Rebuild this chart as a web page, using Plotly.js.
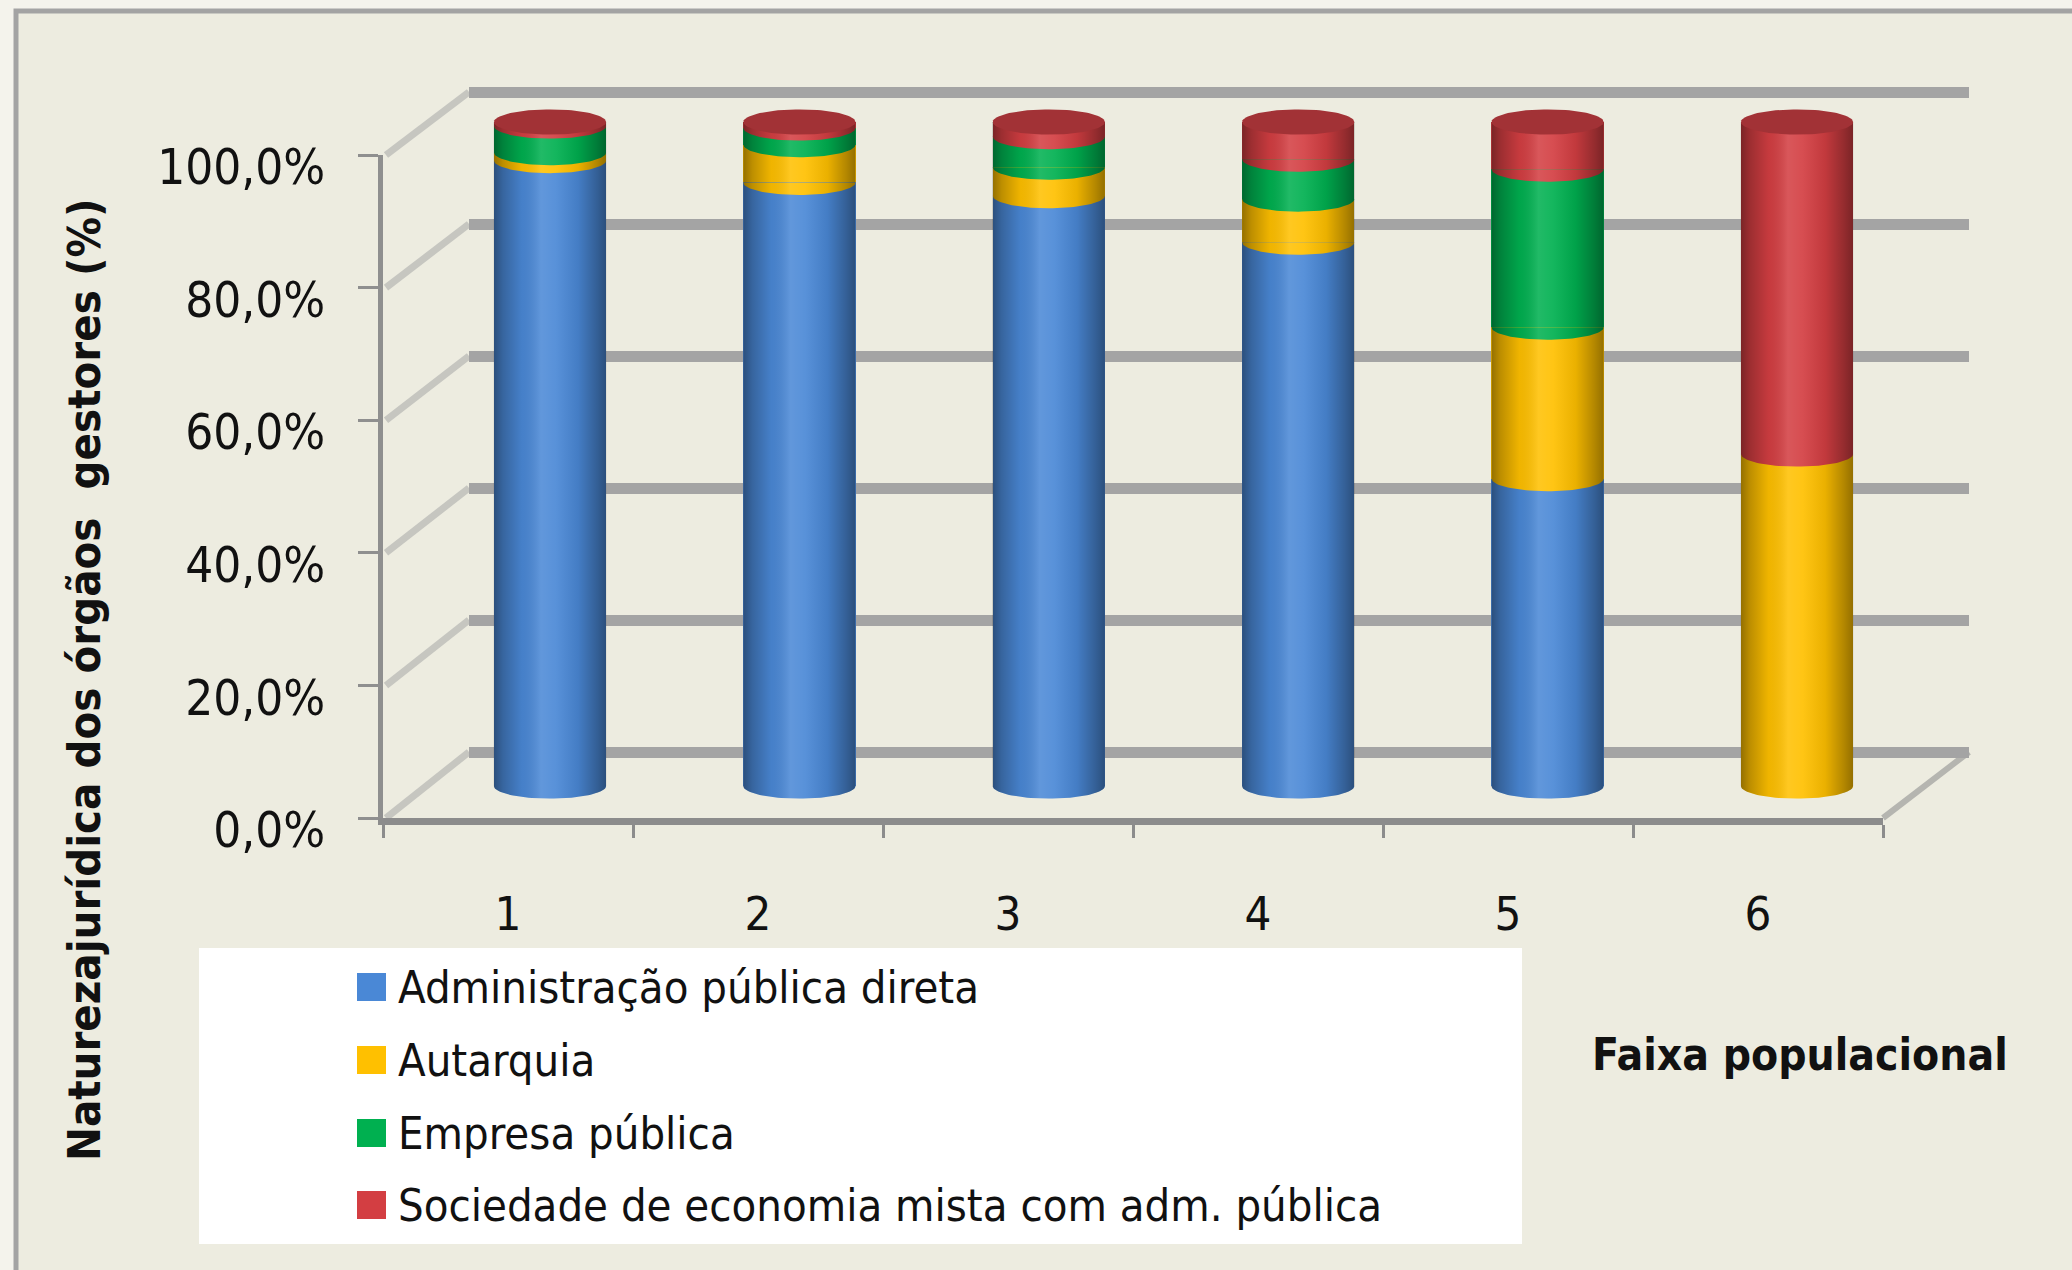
<!DOCTYPE html>
<html>
<head>
<meta charset="utf-8">
<script src="https://cdn.plot.ly/plotly-3.0.1.min.js"></script>
<style>
html,body{margin:0;padding:0;background:#F4F3EC;}
#chart{width:2072px;height:1270px;}
</style>
</head>
<body>
<div id="chart"></div>
<script>
// ---------------- data ----------------
const categories = [1, 2, 3, 4, 5, 6];   // Faixa populacional
const seriesNames = [
  'Administração pública direta',
  'Autarquia',
  'Empresa pública',
  'Sociedade de economia mista com adm. pública'
];
const adminDireta    = [94.2, 90.9, 88.9, 81.9, 46.3, 0.0];
const autarquia      = [ 1.2,  5.7,  4.3,  6.5, 22.8, 50.0];
const empresaPublica = [ 4.0,  2.5,  4.6,  6.0, 23.8,  0.0];
const sociedadeMista = [ 0.6,  0.9,  2.2,  5.6,  7.1, 50.0];
const yTickValues = [0, 20, 40, 60, 80, 100];
const yTickText   = ['0,0%', '20,0%', '40,0%', '60,0%', '80,0%', '100,0%'];
const yTitle = 'Naturezajurídica dos órgãos  gestores (%)';
const xTitle = 'Faixa populacional';

// ---------------- styles ----------------
const series = [adminDireta, autarquia, empresaPublica, sociedadeMista];
const seriesColors = ['#4A88D6', '#FFC000', '#00B050', '#D33E42'];
const capColors    = ['#2F5E9E', '#C89600', '#00803A', '#A23236'];
const FONT = 'DejaVu Sans Condensed, DejaVu Sans, sans-serif';
const W = 2072, H = 1270;
const px = p => p / W;
const py = p => 1 - p / H;
function linDomX(vA, pA, vB, pB, r0, r1) {
  const k = (pB - pA) / (vB - vA);
  return [px(pA + (r0 - vA) * k), px(pA + (r1 - vA) * k)];
}
function linDomY(vA, pA, vB, pB, r0, r1) {
  const k = (pB - pA) / (vB - vA);
  return [py(pA + (r0 - vA) * k), py(pA + (r1 - vA) * k)];
}

const barWidth = 0.45, hw = barWidth / 2, eh = 1.9, NSEG = 48;
const totals = categories.map((c, i) => series.reduce((a, s) => a + s[i], 0));

const traces = [];
// dummy (invisible) trace so the back-wall subplot exists
traces.push({type: 'scatter', mode: 'markers', x: categories, y: totals, xaxis: 'x', yaxis: 'y',
  marker: {opacity: 0}, hoverinfo: 'skip', showlegend: false});

// stacked bars
series.forEach((vals, s) => {
  traces.push({
    type: 'bar', x: categories, y: vals, xaxis: 'x2', yaxis: 'y2', width: barWidth,
    name: seriesNames[s], showlegend: false,
    marker: {color: seriesColors[s], line: {width: 0}},
    hovertemplate: 'Faixa %{x}: %{y:.1f}%<extra>' + seriesNames[s] + '</extra>'
  });
});

// cylinder arcs at segment bases (front arc of each ellipse)
const arcX = series.map(() => []), arcY = series.map(() => []);
const caps = [];
categories.forEach((c, i) => {
  let cum = 0, topS = -1;
  series.forEach((vals, s) => {
    const v = vals[i];
    if (v > 0) {
      for (let k = 0; k <= NSEG; k++) {
        const t = Math.PI * k / NSEG;
        arcX[s].push(c - hw * Math.cos(t));
        arcY[s].push(cum - eh * Math.sin(t));
      }
      arcX[s].push(null); arcY[s].push(null);
      cum += v; topS = s;
    }
  });
  caps.push({c: c, top: cum, s: topS});
});
series.forEach((vals, s) => {
  if (arcX[s].length) {
    traces.push({type: 'scatter', mode: 'lines', x: arcX[s], y: arcY[s], xaxis: 'x2', yaxis: 'y2',
      fill: 'toself', fillcolor: seriesColors[s], line: {width: 0}, hoverinfo: 'skip', showlegend: false});
  }
});

// cylindrical shading overlay
const shade = [[0, 'rgba(0,0,0,0.42)'], [0.08, 'rgba(0,0,0,0.26)'], [0.25, 'rgba(0,0,0,0.06)'],
  [0.42, 'rgba(255,255,255,0.13)'], [0.55, 'rgba(255,255,255,0.08)'], [0.75, 'rgba(0,0,0,0.08)'],
  [0.92, 'rgba(0,0,0,0.30)'], [1, 'rgba(0,0,0,0.42)']];
caps.forEach(cp => {
  const xs = [cp.c - hw, cp.c + hw], ys = [cp.top, cp.top];
  for (let k = 0; k <= NSEG; k++) {
    const t = Math.PI * k / NSEG;
    xs.push(cp.c + hw * Math.cos(t));
    ys.push(0 - eh * Math.sin(t));
  }
  traces.push({type: 'scatter', mode: 'lines', x: xs, y: ys, xaxis: 'x2', yaxis: 'y2',
    fill: 'toself', line: {width: 0},
    fillgradient: {type: 'horizontal', start: cp.c - hw, stop: cp.c + hw, colorscale: shade},
    hoverinfo: 'skip', showlegend: false});
});

// top faces
caps.forEach(cp => {
  const xs = [], ys = [];
  for (let k = 0; k <= 2 * NSEG; k++) {
    const t = Math.PI * k / NSEG;
    xs.push(cp.c + hw * Math.cos(t));
    ys.push(cp.top + eh * Math.sin(t));
  }
  traces.push({type: 'scatter', mode: 'lines', x: xs, y: ys, xaxis: 'x2', yaxis: 'y2',
    fill: 'toself', fillcolor: capColors[cp.s], line: {width: 0}, hoverinfo: 'skip', showlegend: false});
});

// front axes dummy
traces.push({type: 'scatter', mode: 'markers', x: categories, y: totals, xaxis: 'x3', yaxis: 'y3',
  marker: {opacity: 0}, hoverinfo: 'skip', showlegend: false});

// ---------------- decoration (walls, legend box, border) ----------------
const frontY = v => 818 - v * 6.63;
const backY  = v => 752 - v * 6.60;
const shapes = [];
shapes.push({type: 'rect', xref: 'paper', yref: 'paper', x0: px(16), x1: 1, y0: 0, y1: py(11),
  fillcolor: '#EDECE0', line: {width: 0}, layer: 'below'});
shapes.push({type: 'path', xref: 'paper', yref: 'paper',
  path: 'M' + px(16) + ',0 L' + px(16) + ',' + py(11) + ' L1,' + py(11),
  line: {color: '#A3A3A3', width: 5}, layer: 'below'});
yTickValues.forEach(v => {
  shapes.push({type: 'line', xref: 'paper', yref: 'paper', x0: px(386), y0: py(frontY(v)),
    x1: px(469), y1: py(backY(v)), line: {color: '#C6C6C0', width: 7}, layer: 'below'});
});
shapes.push({type: 'line', xref: 'paper', yref: 'paper', x0: px(1883), y0: py(frontY(0)),
  x1: px(1969), y1: py(backY(0)), line: {color: '#B5B5B0', width: 6}, layer: 'below'});
// legend box
shapes.push({type: 'rect', xref: 'paper', yref: 'paper', x0: px(199), x1: px(1522), y0: py(1244), y1: py(948),
  fillcolor: '#FFFFFF', line: {width: 0}, layer: 'below'});

const annotations = [];
const legendRows = [987, 1060, 1133, 1205];
seriesNames.forEach((nm, s) => {
  const yc = legendRows[s];
  shapes.push({type: 'rect', xref: 'paper', yref: 'paper', x0: px(357), x1: px(386),
    y0: py(yc + 14), y1: py(yc - 14), fillcolor: seriesColors[s], line: {width: 0}});
  annotations.push({xref: 'paper', yref: 'paper', x: px(396), y: py(yc), xanchor: 'left', yanchor: 'middle',
    text: nm, showarrow: false, font: {family: FONT, size: 45, color: '#111111'}});
});
annotations.push({xref: 'paper', yref: 'paper', x: px(84), y: py(680), xanchor: 'center', yanchor: 'middle',
  textangle: -90, text: yTitle, showarrow: false,
  font: {family: FONT, size: 45, color: '#111111', weight: 'bold'}});
annotations.push({xref: 'paper', yref: 'paper', x: px(1800), y: py(1054), xanchor: 'center', yanchor: 'middle',
  text: xTitle, showarrow: false,
  font: {family: FONT, size: 44, color: '#111111', weight: 'bold'}});

const hidden = {showgrid: false, zeroline: false, showline: false, showticklabels: false, ticks: ''};

const layout = {
  width: W, height: H, autosize: false,
  margin: {l: 0, r: 0, t: 0, b: 0, pad: 0},
  paper_bgcolor: '#F4F3EC', plot_bgcolor: 'rgba(0,0,0,0)',
  separators: ',.',
  barmode: 'stack',
  showlegend: false,
  font: {family: FONT, color: '#111111'},
  xaxis: Object.assign({type: 'category', range: [-0.5, 5.5], domain: [px(469), px(1969)],
    anchor: 'y', fixedrange: true}, hidden),
  yaxis: {range: [-3, 103], domain: linDomY(0, 752, 100, 92, -3, 103), anchor: 'x',
    tickvals: yTickValues, showticklabels: false, ticks: '', showgrid: true,
    gridcolor: '#A4A4A4', gridwidth: 11, zeroline: false, showline: false, fixedrange: true},
  xaxis2: Object.assign({type: 'linear', range: [0.5, 6.5], domain: linDomX(1, 550, 6, 1797, 0.5, 6.5),
    anchor: 'y2', fixedrange: true}, hidden),
  yaxis2: Object.assign({type: 'linear', range: [-6, 106], domain: linDomY(0, 786, 100, 122, -6, 106),
    anchor: 'x2', fixedrange: true}, hidden),
  xaxis3: {type: 'category', range: [-0.5, 5.5], domain: [px(383), px(1883)], anchor: 'y3',
    showline: true, linecolor: '#8C8C8C', linewidth: 7, showgrid: false, zeroline: false,
    ticks: 'outside', tickson: 'boundaries', ticklen: 13, tickwidth: 3, tickcolor: '#8C8C8C',
    tickfont: {family: FONT, size: 47, color: '#111111'}, ticklabelstandoff: 49, fixedrange: true},
  yaxis3: {type: 'linear', range: [0, 100], domain: linDomY(0, 818, 100, 155, 0, 100), anchor: 'x3',
    tickvals: yTickValues, ticktext: yTickText,
    showline: true, linecolor: '#8F8F8F', linewidth: 5, showgrid: false, zeroline: false,
    ticks: 'outside', ticklen: 20, tickwidth: 3, tickcolor: '#8F8F8F',
    tickfont: {family: FONT, size: 49, color: '#111111'}, ticklabelstandoff: 23, ticklabelshift: 12,
    fixedrange: true},
  shapes: shapes,
  annotations: annotations
};

Plotly.newPlot('chart', traces, layout, {displayModeBar: false});
</script>
</body>
</html>
